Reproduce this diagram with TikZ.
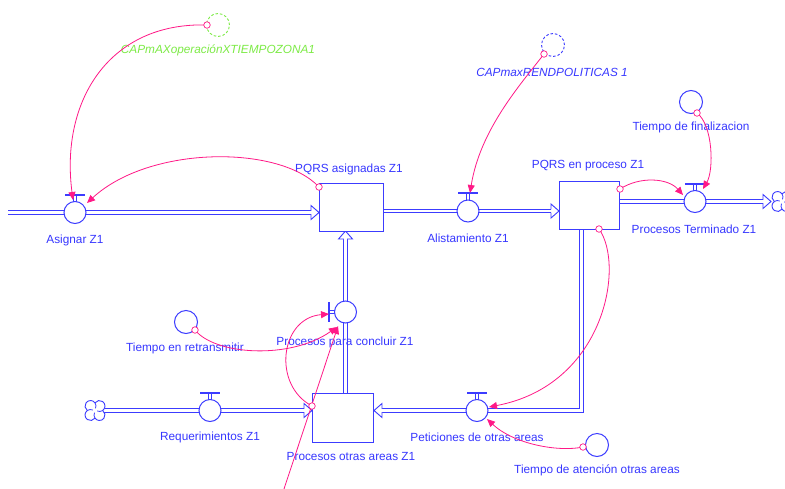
\documentclass[tikz,border=0pt]{standalone}
\usepackage{fontspec}
\setmainfont{Liberation Sans}
\usetikzlibrary{arrows.meta}

\definecolor{flowblue}{RGB}{60,60,255}
\definecolor{txtblue}{RGB}{55,55,255}
\definecolor{linkpink}{RGB}{255,25,135}
\definecolor{shadowgreen}{RGB}{125,235,70}

\tikzset{
  pipe/.style={draw=flowblue, line width=0.9pt, double=white, double distance=2.3pt},
  flowhead/.style={draw=flowblue, fill=white, line width=0.9pt, line join=miter},
  levelbox/.style={draw=flowblue, line width=1pt, fill=white, inner sep=0pt},
  valvebody/.style={draw=flowblue, line width=1pt, fill=white, circle, minimum size=22pt, inner sep=0pt},
  auxvar/.style={draw=flowblue, line width=1pt, circle, minimum size=23pt, inner sep=0pt},
  ghostvar/.style={circle, minimum size=23pt, inner sep=0pt, line width=0.9pt, dash pattern=on 2.5pt off 2pt},
  lbl/.style={text=txtblue, font=\fontsize{11.8}{13}\selectfont, inner sep=0pt},
  link/.style={draw=linkpink, line width=0.8pt, -{Triangle[length=8pt,width=7pt]}},
  linktail/.style={circle, draw=linkpink, fill=white, line width=0.7pt, minimum size=6.5pt, inner sep=0pt},
  % hollow flow arrowhead, tip at the origin, pointing along +x
  pics/flowtip/.style={code={
    \path[flowhead] (-8,-1.7) -- (-8,-7) -- (0,0) -- (-8,7) -- (-8,1.7);
  }},
  % valve handle above a horizontal flow
  pics/valvetop/.style={code={
    \draw[flowblue, line width=2pt] (-10,-18) -- (10,-18);
    \draw[flowblue, line width=0.8pt] (-1.6,-18) -- (-1.6,-11) (1.6,-18) -- (1.6,-11);
  }},
  % source / sink cloud
  pics/cloudsrc/.style={code={
    \draw[flowblue, line width=0.9pt, fill=white]
      (7.66,0) arc[start angle=-54.9, end angle=144.9, radius=5.5]
               arc[start angle=35.1, end angle=234.9, radius=5.5]
               arc[start angle=125.1, end angle=324.9, radius=5.5]
               arc[start angle=215.1, end angle=414.9, radius=5.5] -- cycle;
    \draw[flowblue, line width=0.8pt]
      (0,7.66) arc[start angle=144.9, end angle=205, radius=5.5]
      (-7.66,0) arc[start angle=234.9, end angle=295, radius=5.5]
      (0,-7.66) arc[start angle=324.9, end angle=385, radius=5.5]
      (7.66,0) arc[start angle=54.9, end angle=115, radius=5.5];
  }}
}

\begin{document}
\begin{tikzpicture}[x=1pt, y=-1pt]
\useasboundingbox (0,0) rectangle (785,488);
\clip (0,0) rectangle (785,488);
\fill[white] (0,0) rectangle (785,488);

% ---------- pipe end points ----------
\coordinate (asigSrc) at (8,212.5);
\coordinate (asigIn)  at (311,212.5);
\coordinate (asigTip) at (319,212.5);
\coordinate (alOut)   at (383,211);
\coordinate (alIn)    at (551,211);
\coordinate (alTip)   at (559,211);
\coordinate (termOut) at (619,201.5);
\coordinate (termIn)  at (763,201.5);
\coordinate (termTip) at (771,201.5);
\coordinate (concOut) at (345.5,393);
\coordinate (concIn)  at (345.5,239);
\coordinate (concTip) at (345.5,231);
\coordinate (reqSrc)  at (104,410.5);
\coordinate (reqIn)   at (304,410.5);
\coordinate (reqTip)  at (312,410.5);
\coordinate (petOut)  at (581.5,229);
\coordinate (petBend) at (581.5,410.5);
\coordinate (petIn)   at (382,410.5);
\coordinate (petTip)  at (374,410.5);

% ---------- pipes ----------
\draw[pipe] (asigSrc) -- (asigIn);
\draw[pipe] (alOut) -- (alIn);
\draw[pipe] (termOut) -- (termIn);
\draw[pipe] (concOut) -- (concIn);
\draw[pipe] (reqSrc) -- (reqIn);
\draw[pipe] (petOut) -- (petBend) -- (petIn);

\pic at (asigTip) {flowtip};
\pic at (alTip) {flowtip};
\pic at (termTip) {flowtip};
\pic[rotate=90] at (concTip) {flowtip};
\pic at (reqTip) {flowtip};
\pic[rotate=180] at (petTip) {flowtip};

% ---------- clouds ----------
\pic at (95,410.5) {cloudsrc};
\pic at (782,201.5) {cloudsrc};

% ---------- stocks ----------
\node[levelbox, minimum width=64pt, minimum height=48pt] (asig) at (351,207) {};
\node[levelbox, minimum width=60pt, minimum height=48pt] (proc) at (589,205) {};
\node[levelbox, minimum width=61pt, minimum height=49pt] (otras) at (342.5,417.5) {};

% ---------- valves ----------
\pic at (75,212.5) {valvetop};
\node[valvebody] (vAsig) at (75,212.5) {};
\pic at (468,211) {valvetop};
\node[valvebody] (vAlist) at (468,211) {};
\pic at (695,201.5) {valvetop};
\node[valvebody] (vTerm) at (695,201.5) {};
\pic at (210,410.5) {valvetop};
\node[valvebody] (vReq) at (210,410.5) {};
\pic at (477,410.5) {valvetop};
\node[valvebody] (vPet) at (477,410.5) {};
% vertical flow: handle on the left
\draw[flowblue, line width=2pt] (328.5,302) -- (328.5,322);
\draw[flowblue, line width=0.8pt] (328.5,310.4) -- (334.5,310.4) (328.5,313.6) -- (334.5,313.6);
\node[valvebody] (vConc) at (345.5,312) {};

% ---------- auxiliaries ----------
\node[auxvar] (tFin) at (691,102) {};
\node[auxvar] (tRet) at (186,322) {};
\node[auxvar] (tAten) at (597,445) {};
\node[ghostvar, draw=shadowgreen] (capOp) at (218,25) {};
\node[ghostvar, draw=flowblue] (capRend) at (553,45) {};

% ---------- labels ----------
\node[lbl] (lAsig) at (75,240) {Asignar Z1};
\node[lbl] (lAsigS) at (349,169) {PQRS asignadas Z1};
\node[lbl] (lAlist) at (468,238) {Alistamiento Z1};
\node[lbl] (lProc) at (588,166) {PQRS en proceso Z1};
\node[lbl] (lTerm) at (694,229) {Procesos Terminado Z1};
\node[lbl] (lFin) at (691,127) {Tiempo de finalizacion};
\node[lbl, text=shadowgreen, font=\fontsize{11.8}{13}\selectfont\itshape] (lCapOp) at (218,50) {CAPmAXoperaciónXTIEMPOZONA1};
\node[lbl, font=\fontsize{11.8}{13}\selectfont\itshape] (lCapRend) at (552,72) {CAPmaxRENDPOLITICAS 1};
\node[lbl] (lRet) at (185,348) {Tiempo en retransmitir};
\node[lbl] (lConc) at (345,342) {Procesos para concluir Z1};
\node[lbl] (lReq) at (210,437) {Requerimientos Z1};
\node[lbl] (lOtras) at (351,456) {Procesos otras areas Z1};
\node[lbl] (lPet) at (477,437) {Peticiones de otras areas};
\node[lbl] (lAten) at (597,470) {Tiempo de atención otras areas};

% ---------- connector ends ----------
\coordinate (kCapOp) at (207,25);
\coordinate (eAsigTop) at (73,200);
\coordinate (kAsig) at (319,187);
\coordinate (eAsigSide) at (87,203);
\coordinate (kCapRend) at (544,54);
\coordinate (eAlist) at (470,193);
\coordinate (kProcR) at (620,189);
\coordinate (eTermL) at (683,195);
\coordinate (kFin) at (697,113);
\coordinate (eTermT) at (703,189);
\coordinate (kProcB) at (599,229);
\coordinate (ePetR) at (489,407);
\coordinate (kAten) at (583,447);
\coordinate (ePetB) at (487,419);
\coordinate (kRet) at (195,330);
\coordinate (eConcA) at (337,327);
\coordinate (kOtras) at (312,406);
\coordinate (eConcB) at (329,314);
\coordinate (kFree) at (283,492);
\coordinate (eConcC) at (338,326);

% ---------- connectors ----------
\draw[link] (kCapOp) .. controls (110,22) and (60,100) .. (eAsigTop);
\draw[link] (kAsig) .. controls (280,145) and (150,145) .. (eAsigSide);
\draw[link] (kCapRend) .. controls (520,85) and (480,130) .. (eAlist);
\draw[link] (kProcR) .. controls (640,176) and (668,178) .. (eTermL);
\draw[link] (kFin) .. controls (713,125) and (714,170) .. (eTermT);
\draw[link] (kProcB) .. controls (625,265) and (605,385) .. (ePetR);
\draw[link] (kAten) .. controls (560,452) and (515,445) .. (ePetB);
\draw[link] (kRet) .. controls (215,355) and (290,360) .. (eConcA);
\draw[link] (kOtras) .. controls (272,385) and (280,318) .. (eConcB);
\draw[link] (kFree) -- (eConcC);

% ---------- connector tails ----------
\node[linktail] (tCapOp) at (kCapOp) {};
\node[linktail] (tAsig) at (kAsig) {};
\node[linktail] (tCapRend) at (kCapRend) {};
\node[linktail] (tProcR) at (kProcR) {};
\node[linktail] (tFinK) at (kFin) {};
\node[linktail] (tProcB) at (kProcB) {};
\node[linktail] (tAtenK) at (kAten) {};
\node[linktail] (tRetK) at (kRet) {};
\node[linktail] (tOtras) at (kOtras) {};
\end{tikzpicture}
\end{document}
